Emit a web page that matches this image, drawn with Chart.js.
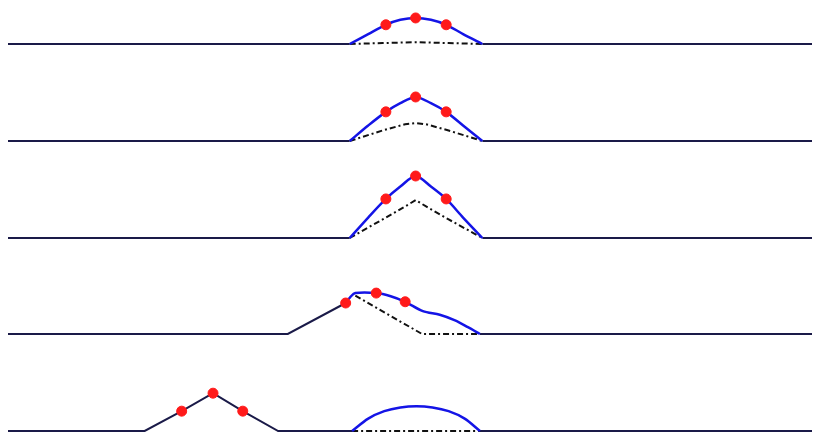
<!DOCTYPE html>
<html>
<head>
<meta charset="utf-8">
<script src="https://cdn.jsdelivr.net/npm/chart.js@4"></script>
<style>
  html, body { margin: 0; padding: 0; background: #fff; overflow: hidden; }
  body { width: 814px; height: 433px; position: relative; }
  .row { position: absolute; left: 0; width: 814px; height: 80px; }
</style>
</head>
<body>
<div class="row" style="top:-28px"><canvas id="r1"></canvas></div>
<div class="row" style="top:69px"><canvas id="r2"></canvas></div>
<div class="row" style="top:166px"><canvas id="r3"></canvas></div>
<div class="row" style="top:262px"><canvas id="r4"></canvas></div>
<div class="row" style="top:359px"><canvas id="r5"></canvas></div>
<script>
// rows 1-3 share the same x positions
const bumpX = [42.5, 44.8, 47.0, 48.8, 50.7, 52.6, 54.5, 56.6, 59.0];
const blue1 = [0, 0.16, 0.31, 0.39, 0.42, 0.39, 0.31, 0.16, 0];
const blue2 = [0, 0.25, 0.47, 0.61, 0.71, 0.61, 0.47, 0.25, 0];
const blue3 = [0, 0.33, 0.63, 0.83, 1.0, 0.83, 0.63, 0.33, 0];

const dotX = [47.0, 50.7, 54.5];
const dot1 = [0.31, 0.42, 0.31];
const dot2 = [0.47, 0.71, 0.47];
const dot3 = [0.63, 1.0, 0.63];

const dashX = [42.5, 46.6, 49.4, 50.7, 52.0, 54.8, 59.0];
const dash1 = [0, 0.015, 0.025, 0.03, 0.025, 0.015, 0];
const dash2 = [0, 0.17, 0.27, 0.29, 0.27, 0.17, 0];
const dash3 = [0, 0.30, 0.51, 0.61, 0.51, 0.30, 0];

const baseX = [0, 42.5, 42.6, 59.0, 100];
const baseY = [0, 0, null, 0, 0];

// row 4
const blue4X = [42.0, 42.6, 43.2, 45.8, 47.6, 49.4, 51.6, 53.7, 55.6, 57.2, 58.7];
const blue4Y = [0.50, 0.60, 0.66, 0.66, 0.61, 0.52, 0.37, 0.31, 0.22, 0.11, 0];
const dot4X = [42.0, 45.8, 49.4];
const dot4Y = [0.50, 0.66, 0.52];
const dash4X = [43.2, 51.5, 58.7];
const dash4Y = [0.62, 0, 0];
const base4X = [0, 34.8, 42.0, 42.1, 58.7, 100];
const base4Y = [0, 0, 0.50, null, 0, 0];

// row 5
const blue5X = [42.8, 44.8, 46.8, 48.8, 50.8, 52.8, 54.8, 56.8, 58.7];
const blue5Y = [0, 0.20, 0.32, 0.38, 0.40, 0.38, 0.32, 0.20, 0];
const dot5X = [21.6, 25.5, 29.2];
const dot5Y = [0.32, 0.61, 0.32];
const dash5X = [42.8, 58.7];
const dash5Y = [0, 0];
const base5X = [0, 17.0, 21.6, 25.5, 29.2, 33.6, 42.8, 42.9, 58.7, 100];
const base5Y = [0, 0, 0.32, 0.61, 0.32, 0, 0, null, 0, 0];

const pts = (xs, ys) => xs.map((x, i) => ({ x: x, y: ys[i] }));

function makeRow(id, base, blue, dash, dots) {
    const ctx = document.getElementById(id).getContext("2d");
    new Chart(ctx, {
        type: "line",
        data: {
            datasets: [
                { data: dots, showLine: false, pointRadius: 5, pointBackgroundColor: "#ff1a1a", pointBorderColor: "#ff1a1a", order: 0 },
                { data: blue, borderColor: "#1414e6", borderWidth: 2.5, pointRadius: 0, tension: 0.3, order: 1 },
                { data: dash, borderColor: "#111", borderWidth: 2, borderDash: [6, 3, 2, 3], pointRadius: 0, order: 2 },
                { data: base, borderColor: "#1a1a48", borderWidth: 2, pointRadius: 0, order: 3 }
            ]
        },
        options: {
            responsive: true,
            maintainAspectRatio: false,
            animation: false,
            layout: { autoPadding: false, padding: { left: 8, right: 2, top: 0, bottom: 0 } },
            plugins: { legend: { display: false }, tooltip: { enabled: false } },
            scales: {
                x: { type: "linear", min: 0, max: 100, display: false },
                y: { min: -8 / 62, max: 72 / 62, display: false }
            }
        }
    });
}

makeRow("r1", pts(baseX, baseY), pts(bumpX, blue1), pts(dashX, dash1), pts(dotX, dot1));
makeRow("r2", pts(baseX, baseY), pts(bumpX, blue2), pts(dashX, dash2), pts(dotX, dot2));
makeRow("r3", pts(baseX, baseY), pts(bumpX, blue3), pts(dashX, dash3), pts(dotX, dot3));
makeRow("r4", pts(base4X, base4Y), pts(blue4X, blue4Y), pts(dash4X, dash4Y), pts(dot4X, dot4Y));
makeRow("r5", pts(base5X, base5Y), pts(blue5X, blue5Y), pts(dash5X, dash5Y), pts(dot5X, dot5Y));
</script>
</body>
</html>
